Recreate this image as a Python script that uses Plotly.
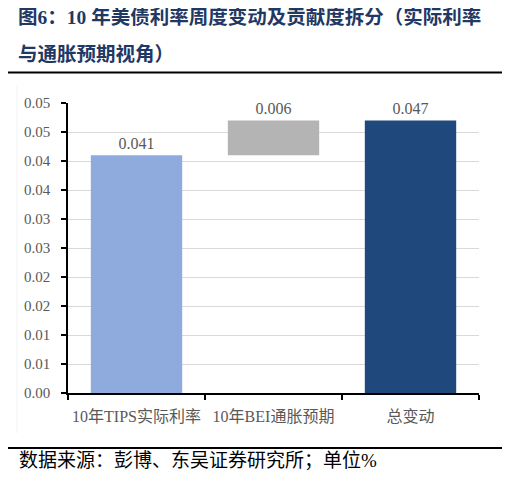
import plotly.graph_objects as go

categories = ["10年TIPS实际利率", "10年BEI通胀预期", "总变动"]
bar_values = [0.041, 0.006, 0.047]
bar_bases = [0.0, 0.041, 0.0]
bar_labels = ["0.041", "0.006", "0.047"]
bar_colors = ["#8FAADC", "#B4B4B4", "#1F497D"]
y_tick_values = [0.0, 0.005, 0.01, 0.015, 0.02, 0.025, 0.03, 0.035, 0.04, 0.045, 0.05]
y_tick_labels = ["0.00", "0.01", "0.01", "0.02", "0.02", "0.03", "0.03", "0.04", "0.04", "0.05", "0.05"]

title_line1 = "图6：10 年美债利率周度变动及贡献度拆分（实际利率"
title_line2 = "与通胀预期视角）"
footer = "数据来源：彭博、东吴证券研究所；单位%"

# page body has an 8px default margin; the figure is sized to fit inside it
OFF = 8
W, H = 510 - 2 * OFF, 481 - 2 * OFF
# plot area in page pixels
L, R, T, B = 68, 479, 103, 393
pw, ph = R - L, B - T


def px(x):
    return (x - L) / pw


def py(y):
    return (B - y) / ph


serif = "Liberation Serif, Noto Sans CJK SC, serif"

fig = go.Figure()
fig.add_trace(go.Bar(
    x=categories,
    y=bar_values,
    base=bar_bases,
    marker=dict(color=bar_colors, line=dict(width=0)),
    width=0.667,
    text=bar_labels,
    textposition="outside",
    textfont=dict(family=serif, size=16, color="#595959"),
    cliponaxis=False,
    hoverinfo="skip",
))

fig.update_layout(
    width=W, height=H,
    margin=dict(l=L - OFF, r=W - (R - OFF), t=T - OFF, b=H - (B - OFF), pad=0),
    paper_bgcolor="white",
    plot_bgcolor="white",
    showlegend=False,
    font=dict(family=serif, size=15, color="#595959"),
    xaxis=dict(
        type="category",
        automargin=False,
        tickangle=0,
        showline=True, linecolor="black", linewidth=1.5,
        ticks="outside", ticklen=5, tickcolor="black", tickwidth=1.5,
        tickson="boundaries",
        ticklabelstandoff=8,
        showgrid=False,
        tickfont=dict(family=serif, size=16, color="#595959"),
        fixedrange=True,
    ),
    yaxis=dict(
        automargin=False,
        range=[0, 0.05],
        tickvals=y_tick_values,
        ticktext=y_tick_labels,
        showline=True, linecolor="black", linewidth=1.5,
        ticks="outside", ticklen=5, tickcolor="black", tickwidth=1.5,
        ticklabelstandoff=8,
        showgrid=True, gridcolor="#D9D9D9", gridwidth=1,
        zeroline=False,
        tickfont=dict(family=serif, size=15, color="#595959"),
        fixedrange=True,
    ),
    shapes=[
        dict(type="line", xref="paper", yref="paper",
             x0=px(5), x1=px(504), y0=py(72.5), y1=py(72.5),
             line=dict(color="black", width=1.8)),
        dict(type="line", xref="paper", yref="paper",
             x0=px(5), x1=px(504), y0=py(448), y1=py(448),
             line=dict(color="black", width=1.8)),
        dict(type="line", xref="paper", yref="paper",
             x0=px(17), x1=px(17), y0=py(85), y1=py(433),
             line=dict(color="#F2F2F2", width=1), layer="below"),
    ],
    annotations=[
        dict(text="<b>" + title_line1 + "</b>", xref="paper", yref="paper",
             x=px(16), y=py(17), xanchor="left", yanchor="middle", showarrow=False,
             font=dict(family=serif, size=19.5, color="#1F3864")),
        dict(text="<b>" + title_line2 + "</b>", xref="paper", yref="paper",
             x=px(16), y=py(54), xanchor="left", yanchor="middle", showarrow=False,
             font=dict(family=serif, size=19.5, color="#1F3864")),
        dict(text=footer, xref="paper", yref="paper",
             x=px(17), y=py(460), xanchor="left", yanchor="middle", showarrow=False,
             font=dict(family=serif, size=19, color="black")),
    ],
)

fig.write_html("out.html")
